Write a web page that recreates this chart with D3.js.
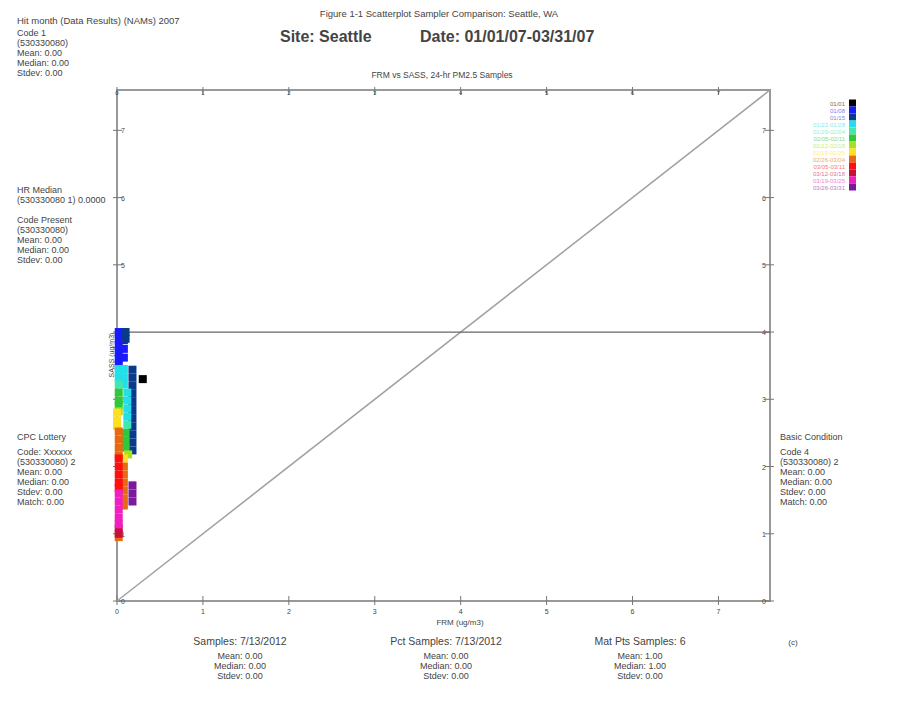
<!DOCTYPE html>
<html>
<head>
<meta charset="utf-8">
<script src="https://cdn.jsdelivr.net/npm/d3@7"></script>
<style>
body { margin: 0; background: #fff; }
text { font-family: "Liberation Sans", Arial, sans-serif; fill: #444; }
</style>
</head>
<body>
<script>
var W = 899, H = 708;

// weekly groups shown in the legend
var weekLabels = ["01/01", "01/08", "01/15", "01/22-01/28", "01/29-02/04", "02/05-02/11", "02/12-02/18",
                  "02/19-02/25", "02/26-03/04", "03/05-03/11", "03/12-03/18", "03/19-03/25", "03/26-03/31"];
var weekColors = ["#000000", "#1a1aff", "#0a3a8c", "#22e0e8", "#40e8b0", "#2ec83a", "#a8e020",
                  "#ffe020", "#e86a10", "#ff1010", "#c8103c", "#f020c0", "#7a1a9a"];

// samples: week index, FRM value, SASS value
var sampleWeek = [1,1,1,1,1,1,1,1,1,1,
                  2,2,2,2,2,2,2,2,2,2,2,2,2,
                  3,3,3,3,3,3,3,3,3,
                  4,4,
                  5,5,5,5,5,5,
                  6,6,
                  7,7,7,7,
                  8,8,8,8,8,8,8,8,8,8,8,
                  9,9,9,9,9,
                  10,10,
                  11,11,11,11,11,
                  12,12,12,
                  0];
var sampleFrm  = [0.02,0.02,0.02,0.02,0.02,0.02,0.08,0.08,0.08,0.08,
                  0.10,0.10,0.18,0.18,0.18,0.18,0.18,0.18,0.18,0.18,0.18,0.18,0.18,
                  0.02,0.02,0.08,0.08,0.08,0.12,0.12,0.12,0.12,
                  0.02,0.12,
                  0.02,0.02,0.02,0.10,0.10,0.10,
                  0.02,0.13,
                  0.00,0.00,0.00,0.08,
                  0.02,0.02,0.02,0.02,0.02,0.08,0.08,0.08,0.08,0.08,0.08,
                  0.02,0.02,0.02,0.02,0.02,
                  0.02,0.02,
                  0.02,0.02,0.02,0.02,0.02,
                  0.18,0.18,0.18,
                  0.30];
var sampleSass = [4.00,3.90,3.80,3.70,3.60,3.50,4.00,3.88,3.75,3.62,
                  4.00,3.90,3.44,3.32,3.20,3.08,2.96,2.84,2.72,2.60,2.48,2.36,2.24,
                  3.45,3.33,3.45,3.33,3.22,3.10,2.98,2.86,2.74,
                  3.22,2.62,
                  3.10,2.98,2.90,2.50,2.38,2.28,
                  2.82,2.18,
                  2.80,2.68,2.60,2.12,
                  2.52,2.40,2.28,2.16,0.95,2.00,1.88,1.76,1.64,1.52,1.42,
                  2.12,2.00,1.88,1.76,1.68,
                  1.08,1.00,
                  1.60,1.48,1.36,1.24,1.14,
                  1.72,1.60,1.48,
                  3.30];

var ticks = [0, 1, 2, 3, 4, 5, 6, 7];
var refLevel = 4;
var axisMax = 7.6;

var svg = d3.select("body").append("svg")
  .attr("width", W).attr("height", H);

var x = d3.scaleLinear().domain([0, axisMax]).range([117, 770]);
var y = d3.scaleLinear().domain([0, axisMax]).range([601, 90]);

// header
svg.append("text").attr("x", 439).attr("y", 17).attr("text-anchor", "middle")
  .attr("font-size", 9.5).text("Figure 1-1 Scatterplot Sampler Comparison: Seattle, WA");
svg.append("text").attr("x", 280).attr("y", 42)
  .attr("font-size", 16).attr("font-weight", "bold").text("Site: Seattle");
svg.append("text").attr("x", 420).attr("y", 42)
  .attr("font-size", 16).attr("font-weight", "bold").text("Date: 01/01/07-03/31/07");
svg.append("text").attr("x", 442).attr("y", 78).attr("text-anchor", "middle")
  .attr("font-size", 8.5).text("FRM vs SASS, 24-hr PM2.5 Samples");

function block(x0, y0, lines, anchor, size) {
  var t = svg.append("text").attr("x", x0).attr("y", y0)
    .attr("font-size", size || 9).attr("text-anchor", anchor || "start");
  lines.forEach(function(s, i) {
    t.append("tspan").attr("x", x0).attr("dy", i ? 10 : 0).text(s);
  });
}
block(17, 24, ["Hit month (Data Results) (NAMs) 2007"], "start", 9.5);
block(17, 36, ["Code 1", "(530330080)", "Mean:    0.00", "Median:  0.00", "Stdev:    0.00"]);
block(17, 193, ["HR Median", "(530330080 1) 0.0000"]);
block(17, 223, ["Code Present", "(530330080)", "Mean:    0.00", "Median:  0.00", "Stdev:    0.00"]);
block(17, 440, ["CPC Lottery"]);
block(17, 455, ["Code: Xxxxxx", "(530330080) 2", "Mean:    0.00", "Median:  0.00", "Stdev:    0.00", "Match:   0.00"]);
block(780, 440, ["Basic Condition"]);
block(780, 455, ["Code 4", "(530330080) 2", "Mean:    0.00", "Median:  0.00", "Stdev:    0.00", "Match:   0.00"]);

// frame
svg.append("rect").attr("x", x(0)).attr("y", y(axisMax))
  .attr("width", x(axisMax) - x(0)).attr("height", y(0) - y(axisMax))
  .attr("fill", "none").attr("stroke", "#999").attr("stroke-width", 2);

var tg = svg.append("g").attr("stroke", "#777").attr("stroke-width", 1);
ticks.forEach(function(t) {
  tg.append("line").attr("x1", x(t)).attr("x2", x(t)).attr("y1", y(0) - 5).attr("y2", y(0) + 4);
  tg.append("line").attr("x1", x(t)).attr("x2", x(t)).attr("y1", y(axisMax) - 3).attr("y2", y(axisMax) + 5);
  tg.append("line").attr("y1", y(t)).attr("y2", y(t)).attr("x1", x(0) - 4).attr("x2", x(0) + 5);
  tg.append("line").attr("y1", y(t)).attr("y2", y(t)).attr("x1", x(axisMax) - 5).attr("x2", x(axisMax) + 4);
});
svg.selectAll(".xt").data(ticks).enter().append("text")
  .attr("x", function(d) { return x(d); }).attr("y", 614)
  .attr("text-anchor", "middle").attr("font-size", 7).text(function(d) { return d; });
svg.selectAll(".xtt").data(ticks).enter().append("text")
  .attr("x", function(d) { return x(d); }).attr("y", 95)
  .attr("text-anchor", "middle").attr("font-size", 6).text(function(d) { return d; });
svg.selectAll(".yt").data(ticks).enter().append("text")
  .attr("x", 121).attr("y", function(d) { return y(d) + 3; })
  .attr("font-size", 7).text(function(d) { return d; });
svg.selectAll(".ytr").data(ticks).enter().append("text")
  .attr("x", 762).attr("y", function(d) { return y(d) + 3; })
  .attr("font-size", 7).text(function(d) { return d; });

svg.append("text").attr("x", 460).attr("y", 625).attr("text-anchor", "middle")
  .attr("font-size", 8).text("FRM (ug/m3)");
svg.append("text").attr("transform", "translate(114,355) rotate(-90)")
  .attr("text-anchor", "middle").attr("font-size", 7).text("SASS (ug/m3)");

// 1:1 line and reference level
svg.append("line").attr("x1", x(0)).attr("y1", y(0)).attr("x2", x(axisMax)).attr("y2", y(axisMax))
  .attr("stroke", "#a0a0a0").attr("stroke-width", 1.5);
svg.append("line").attr("x1", x(0)).attr("x2", x(axisMax)).attr("y1", y(refLevel)).attr("y2", y(refLevel))
  .attr("stroke", "#666").attr("stroke-width", 1.2);

// samples
var s = 8;
svg.append("g").selectAll("rect").data(d3.range(sampleWeek.length)).enter().append("rect")
  .attr("x", function(i) { return x(sampleFrm[i]) - s / 2; })
  .attr("y", function(i) { return y(sampleSass[i]) - s / 2; })
  .attr("width", s).attr("height", s)
  .attr("fill", function(i) { return weekColors[sampleWeek[i]]; });

// legend
var lg = svg.append("g");
weekLabels.forEach(function(l, i) {
  var yy = 103 + i * 7;
  lg.append("rect").attr("x", 849).attr("y", yy - 3.5).attr("width", 7).attr("height", 7)
    .attr("fill", weekColors[i]);
  lg.append("text").attr("x", 845).attr("y", yy + 2.5).attr("text-anchor", "end")
    .attr("font-size", 6).style("fill", weekColors[i]).attr("opacity", 0.6).text(l);
});

// bottom summary
block(240, 645, ["Samples: 7/13/2012"], "middle", 10.5);
block(240, 659, ["Mean:    0.00", "Median:  0.00", "Stdev:    0.00"], "middle");
block(446, 645, ["Pct Samples: 7/13/2012"], "middle", 10.5);
block(446, 659, ["Mean:    0.00", "Median:  0.00", "Stdev:    0.00"], "middle");
block(640, 645, ["Mat Pts Samples: 6"], "middle", 10.5);
block(640, 659, ["Mean:    1.00", "Median:  1.00", "Stdev:    0.00"], "middle");
svg.append("text").attr("x", 793).attr("y", 645).attr("text-anchor", "middle")
  .attr("font-size", 8).text("(c)");
</script>
</body>
</html>
